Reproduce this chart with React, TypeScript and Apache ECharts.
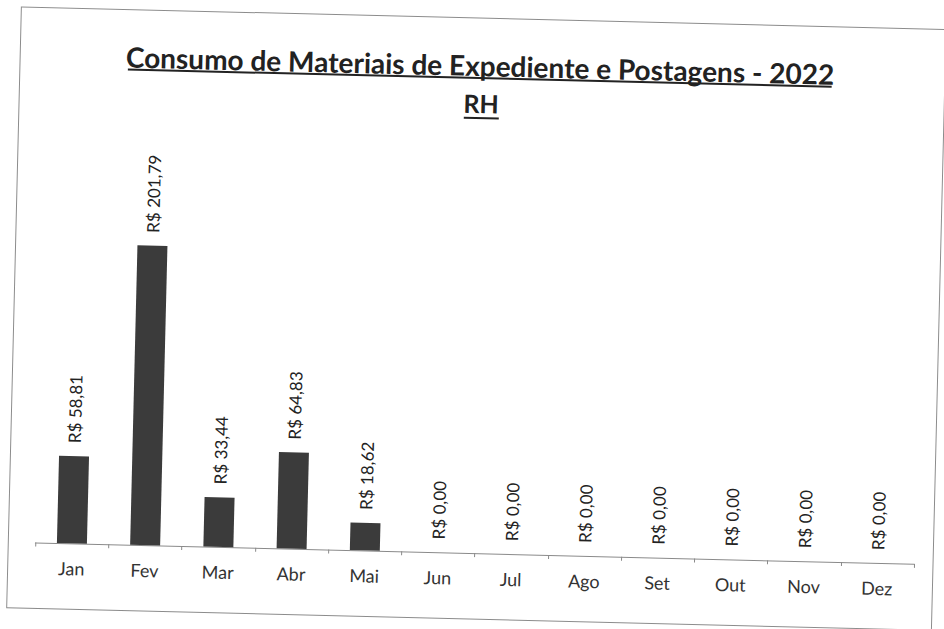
import React, { useEffect, useRef } from "react";
import * as echarts from "echarts";

const categories = ["Jan", "Fev", "Mar", "Abr", "Mai", "Jun", "Jul", "Ago", "Set", "Out", "Nov", "Dez"];
const values = [58.81, 201.79, 33.44, 64.83, 18.62, 0, 0, 0, 0, 0, 0, 0];
const titleText = "Consumo de Materiais de Expediente e Postagens - 2022";
const subtitleText = "RH";

const fmt = (v: number) => "R$ " + v.toFixed(2).replace(".", ",");

export default function App() {
  const ref = useRef<HTMLDivElement>(null);
  useEffect(() => {
    if (!ref.current) return;
    const chart = echarts.init(ref.current, undefined, { renderer: "svg" });
    const font = "Lato, 'Liberation Sans', sans-serif";
    chart.setOption({
      animation: false,
      backgroundColor: "#ffffff",
      grid: { left: 41, right: 24, top: 182, bottom: 76 },
      xAxis: {
        type: "category",
        data: categories,
        boundaryGap: true,
        axisLine: { lineStyle: { color: "#8a8a8a", width: 1 } },
        axisTick: { show: true, length: 4, lineStyle: { color: "#8a8a8a" } },
        axisLabel: { color: "#333333", fontSize: 18, fontFamily: font, margin: 16 },
      },
      yAxis: {
        type: "value",
        min: 0,
        max: 250,
        show: false,
        splitLine: { show: false },
      },
      graphic: [
        {
          type: "rect",
          shape: { x: 14, y: 18, width: 925, height: 601 },
          style: { fill: "none", stroke: "#8c8c8c", lineWidth: 1 },
          silent: true,
        },
        {
          type: "text",
          x: 474,
          y: 65,
          style: {
            text: titleText,
            font: "bold 28px " + font,
            fill: "#222222",
            textAlign: "center",
            textVerticalAlign: "middle",
          },
        },
        {
          type: "line",
          shape: { x1: 122, y1: 78, x2: 826, y2: 78 },
          style: { stroke: "#222222", lineWidth: 2 },
        },
        {
          type: "text",
          x: 476,
          y: 103,
          style: {
            text: subtitleText,
            font: "bold 25px " + font,
            fill: "#222222",
            textAlign: "center",
            textVerticalAlign: "middle",
          },
        },
        {
          type: "line",
          shape: { x1: 459, y1: 118, x2: 494, y2: 118 },
          style: { stroke: "#222222", lineWidth: 2 },
        },
      ],
      series: [
        {
          type: "bar",
          data: values,
          barWidth: 30,
          itemStyle: { color: "#3b3b3b" },
          label: {
            show: true,
            position: "top",
            rotate: 90,
            align: "left",
            verticalAlign: "middle",
            distance: 13,
            color: "#222222",
            fontSize: 17,
            fontFamily: font,
            formatter: (p: any) => fmt(p.value),
          },
        },
      ],
    });
    return () => chart.dispose();
  }, []);
  return (
    <div
      style={{
        position: "fixed",
        left: 0,
        top: 0,
        width: 944,
        height: 629,
        background: "#ffffff",
        overflow: "hidden",
      }}
    >
      <div
        ref={ref}
        style={{ width: 944, height: 629, transform: "rotate(1.4deg)", transformOrigin: "472px 314px" }}
      />
    </div>
  );
}
